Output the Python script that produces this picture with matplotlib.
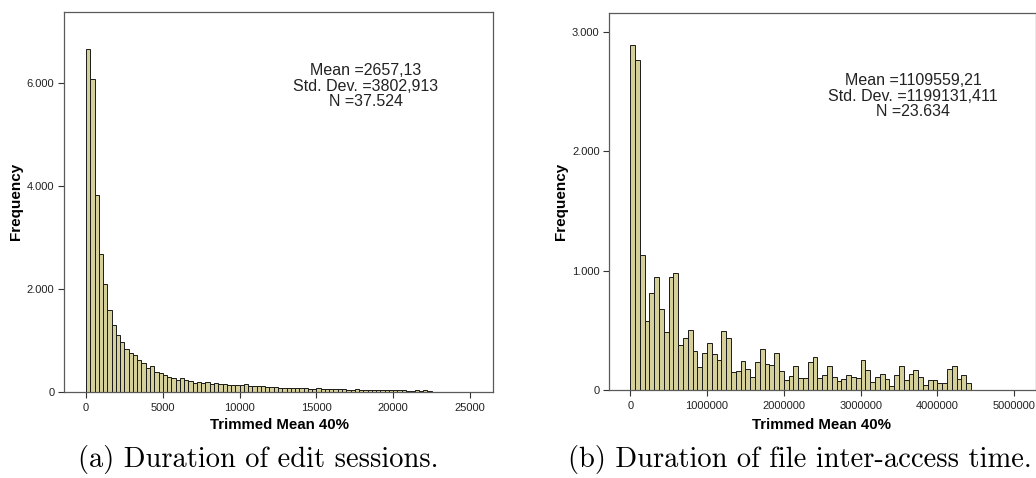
import numpy as np
import matplotlib
matplotlib.use("Agg")
import matplotlib.pyplot as plt
from matplotlib.ticker import FuncFormatter

# (a) edit session durations: SPSS histogram, bin width ~277.8
edit_bin_width = 5000 / 18
edit_counts = [
    6647, 6065, 3819, 2686, 2091, 1586, 1307, 1107, 971, 841,
    764, 725, 615, 557, 466, 498, 388, 375, 324, 291,
    278, 239, 272, 227, 214, 175, 194, 175, 185, 160,
    170, 155, 148, 145, 130, 128, 140, 150, 118, 108,
    125, 112, 100, 95, 88, 82, 85, 76, 80, 72,
    70, 74, 66, 63, 68, 60, 58, 62, 55, 52,
    56, 48, 46, 50, 42, 45, 40, 38, 42, 36,
    34, 38, 32, 30, 33, 28, 26, 30, 24, 40,
    18,
]
edit_stats = "Mean =2657,13\nStd. Dev. =3802,913\nN =37.524"
edit_xticks = [0, 5000, 10000, 15000, 20000, 25000]
edit_yticks = [0, 2000, 4000, 6000]

# (b) file inter-access time: bin width 62500
access_bin_width = 62500
access_counts = [
    2890, 2768, 1131, 581, 816, 950, 676, 485, 950, 980,
    380, 433, 503, 324, 196, 307, 391, 299, 251, 497,
    433, 154, 162, 240, 179, 112, 232, 341, 215, 207,
    310, 162, 81, 120, 204, 98, 101, 232, 279, 98,
    126, 201, 109, 78, 89, 123, 112, 98, 251, 168,
    64, 106, 131, 89, 36, 123, 201, 81, 134, 168,
    106, 45, 81, 87, 61, 61, 180, 200, 89, 126,
    56,
]
access_stats = "Mean =1109559,21\nStd. Dev. =1199131,411\nN =23.634"
access_xticks = [0, 1000000, 2000000, 3000000, 4000000, 5000000]
access_yticks = [0, 1000, 2000, 3000]

BAR_COLOR = "#d5cf99"
FRAME_COLOR = "#5a5a5a"
W, H = 1036, 478


def thousands(v, pos):
    return "0" if v == 0 else f"{int(v):,}".replace(",", ".")


def draw_hist(ax, counts, bin_width, xticks, yticks, xlim, ylim, stats, stats_xy):
    edges = np.arange(len(counts)) * bin_width
    ax.bar(edges, counts, width=bin_width, align="edge",
           color=BAR_COLOR, edgecolor="#1a1a1a", linewidth=0.7)
    ax.set_xlim(*xlim)
    ax.set_ylim(*ylim)
    ax.set_xticks(xticks)
    ax.set_xticklabels([str(t) for t in xticks])
    ax.set_yticks(yticks)
    ax.yaxis.set_major_formatter(FuncFormatter(thousands))
    ax.tick_params(direction="out", length=4, width=0.8, color="#333333",
                   labelsize=8, pad=3, labelcolor="#222222")
    ax.tick_params(axis="x", pad=4)
    for s in ax.spines.values():
        s.set_color(FRAME_COLOR)
        s.set_linewidth(0.9)
    ax.text(stats_xy[0], stats_xy[1], stats, transform=ax.transAxes,
            ha="center", va="center", fontsize=11.5, linespacing=1.05,
            color="#222222")


plt.rcParams["font.family"] = ["Liberation Sans", "DejaVu Sans"]
fig = plt.figure(figsize=(W / 100, H / 100), dpi=100)

ax1 = fig.add_axes([64 / W, 1 - 392 / H, 429 / W, 380 / H])
draw_hist(ax1, edit_counts, edit_bin_width, edit_xticks, edit_yticks,
          (-1432, 26497), (0, 7373), edit_stats, (0.704, 0.805))

ax2 = fig.add_axes([609.3 / W, 1 - 390 / H, (1035.5 - 609.3) / W, 377.3 / H])
draw_hist(ax2, access_counts, access_bin_width, access_xticks, access_yticks,
          (-273000, 5276000), (0, 3162), access_stats, (0.713, 0.779))

# axis titles
for x in (16, 561):
    fig.text(x / W, 1 - 201 / H, "Frequency", rotation=90, ha="center",
             va="center", fontsize=11, fontweight="bold")
for x in (279, 822):
    fig.text(x / W, 1 - 425 / H, "Trimmed Mean 40%", ha="center",
             va="center", fontsize=10.8, fontweight="bold")

# sub-figure captions
fig.text(258 / W, 1 - 460 / H, "(a) Duration of edit sessions.",
         ha="center", va="center", fontsize=20.5, family="cmr10")
fig.text(800 / W, 1 - 460 / H, "(b) Duration of file inter-access time.",
         ha="center", va="center", fontsize=20.5, family="cmr10")

fig.savefig("out.png", dpi=100)
